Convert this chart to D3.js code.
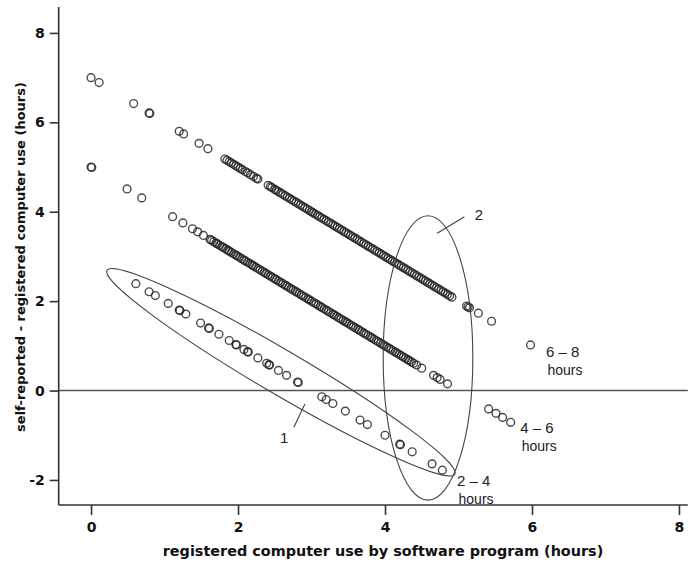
<!DOCTYPE html>
<html>
<head>
<meta charset="utf-8">
<script src="https://cdn.jsdelivr.net/npm/d3@7"></script>
<style>
  html, body { margin: 0; padding: 0; background: #fff; }
  svg { display: block; }
</style>
</head>
<body>
<svg id="chart" width="688" height="564"></svg>
<script>
// ---------------- DATA ----------------
// Registered computer use (hours) for participants in each self-reported category.
// Self-reported category midpoints (hours): 2–4 -> 3, 4–6 -> 5, 6–8 -> 7
const selfReported = [3, 5, 7];
const categoryLabels = ["2 – 4", "4 – 6", "6 – 8"];

const registered_2to4 = [0.61, 0.79, 0.875, 1.05, 1.2, 1.21, 1.29, 1.49, 1.6, 1.61, 1.74, 1.88, 1.97, 1.98,
  2.08, 2.13, 2.14, 2.27, 2.39, 2.42, 2.43, 2.55, 2.66, 2.81, 2.82,
  3.14, 3.2, 3.29, 3.46, 3.66, 3.76, 4.0, 4.2, 4.21, 4.37, 4.64, 4.78];

const registered_4to6 = [0.0, 0.01, 0.49, 0.69, 1.11, 1.25, 1.38, 1.45, 1.53,
  1.62, 1.64, 1.67, 1.7, 1.72, 1.75, 1.78, 1.8, 1.83, 1.86, 1.88, 1.91, 1.94, 1.97, 1.99, 2.02,
  2.05, 2.08, 2.1, 2.13, 2.16, 2.19, 2.21, 2.24, 2.27, 2.3, 2.33, 2.36, 2.38, 2.41, 2.44, 2.47,
  2.5, 2.52, 2.55, 2.58, 2.61, 2.64, 2.66, 2.69, 2.72, 2.75, 2.78, 2.8, 2.83, 2.86, 2.89, 2.92,
  2.95, 2.97, 3.0, 3.03, 3.06, 3.09, 3.12, 3.14, 3.17, 3.2, 3.23, 3.26, 3.29, 3.31, 3.34, 3.37,
  3.4, 3.43, 3.46, 3.48, 3.51, 3.54, 3.57, 3.6, 3.63, 3.65, 3.68, 3.71, 3.74, 3.77, 3.8, 3.82,
  3.85, 3.88, 3.91, 3.94, 3.97, 3.99, 4.02, 4.05, 4.08, 4.11, 4.14, 4.16, 4.19, 4.22, 4.25,
  4.28, 4.31, 4.33, 4.36, 4.39, 4.43, 4.5, 4.66, 4.71, 4.75, 4.85,
  5.41, 5.51, 5.6, 5.71];

const registered_6to8 = [0.0, 0.11, 0.58, 0.79, 0.8, 1.2, 1.26, 1.47, 1.59,
  1.82, 1.85, 1.88, 1.91, 1.94, 1.97, 2.0, 2.03, 2.06, 2.1, 2.13, 2.17, 2.21, 2.25, 2.27,
  2.41, 2.44, 2.46, 2.5, 2.52, 2.55, 2.58, 2.61, 2.64, 2.67, 2.7, 2.73, 2.76, 2.79, 2.82, 2.85,
  2.88, 2.91, 2.94, 2.97, 3.0, 3.02, 3.05, 3.08, 3.11, 3.14, 3.17, 3.2, 3.23, 3.26, 3.29, 3.32,
  3.35, 3.38, 3.41, 3.44, 3.47, 3.5, 3.53, 3.56, 3.59, 3.62, 3.65, 3.68, 3.71, 3.74, 3.77, 3.8,
  3.83, 3.86, 3.89, 3.92, 3.95, 3.98, 4.01, 4.04, 4.07, 4.1, 4.13, 4.16, 4.19, 4.22, 4.25, 4.28,
  4.31, 4.34, 4.37, 4.4, 4.43, 4.46, 4.49, 4.52, 4.55, 4.58, 4.61, 4.64, 4.67, 4.7, 4.73, 4.76,
  4.79, 4.82, 4.85, 4.88, 4.91, 5.11, 5.13, 5.15, 5.27, 5.45, 5.98];

const groups = [registered_2to4, registered_4to6, registered_6to8];

const xTicks = [0, 2, 4, 6, 8];
const yTicks = [-2, 0, 2, 4, 6, 8];
const xTitle = "registered computer use by software program (hours)";
const yTitle = "self-reported - registered computer use (hours)";

// ---------------- LAYOUT ----------------
const svg = d3.select("#chart");
const x = d3.scaleLinear().domain([-0.44, 8.12]).range([58.7, 687.8]);
const y = d3.scaleLinear().domain([-2.56, 8.58]).range([505, 7]);

const axisColor = "#333";
const tickFont = "bold 14px 'DejaVu Sans', Verdana, sans-serif";

// zero reference line
svg.append("line")
  .attr("x1", x(-0.44)).attr("x2", x(8.12))
  .attr("y1", y(0)).attr("y2", y(0))
  .attr("stroke", "#555").attr("stroke-width", 1.6);

// points
const pts = [];
groups.forEach((arr, gi) => arr.forEach(r => pts.push({ r, d: selfReported[gi] - r })));
svg.append("g").selectAll("circle").data(pts).join("circle")
  .attr("cx", d => x(d.r)).attr("cy", d => y(d.d)).attr("r", 3.9)
  .attr("fill", "none").attr("stroke", "#1e1e1e")
  .attr("stroke-opacity", 0.8).attr("stroke-width", 1.4);

// axes
const fmt = d => String(d);
const xAxis = d3.axisBottom(x).tickValues(xTicks).tickSize(10).tickPadding(7).tickFormat(fmt);
const yAxis = d3.axisLeft(y).tickValues(yTicks).tickSize(9).tickPadding(5).tickFormat(fmt);

const gx = svg.append("g").attr("transform", `translate(0,${y(-2.56)})`).call(xAxis);
const gy = svg.append("g").attr("transform", `translate(${x(-0.44)},0)`).call(yAxis);
[gx, gy].forEach(g => {
  g.select(".domain").attr("stroke", axisColor).attr("stroke-width", 1.6);
  g.selectAll(".tick line").attr("stroke", axisColor).attr("stroke-width", 1.6);
  g.selectAll(".tick text").attr("fill", "#111").style("font", tickFont);
});
gx.select(".domain").attr("d", `M${x(-0.44)},0H${x(8.12)}`);
gy.select(".domain").attr("d", `M0,${y(8.58)}V${y(-2.56)}`);

// axis titles
svg.append("text").attr("x", 383).attr("y", 556).attr("text-anchor", "middle")
  .style("font", "bold 14.4px 'DejaVu Sans', Verdana, sans-serif").attr("fill", "#111").text(xTitle);
svg.append("text").attr("transform", "translate(25,257) rotate(-90)").attr("text-anchor", "middle")
  .style("font", "bold 13px 'DejaVu Sans', Verdana, sans-serif").attr("fill", "#111").text(yTitle);

// ---------------- ANNOTATIONS ----------------
const annColor = "#444";
// Ellipse 1 (2–4 h group), defined by its tips in data units plus half-width in px
const tipA = [0.218, 2.69], tipB = [4.95, -1.87];
const ax1 = x(tipA[0]), ay1 = y(tipA[1]), bx1 = x(tipB[0]), by1 = y(tipB[1]);
const cx1 = (ax1 + bx1) / 2, cy1 = (ay1 + by1) / 2;
const rx1 = Math.hypot(bx1 - ax1, by1 - ay1) / 2;
const ang1 = Math.atan2(by1 - ay1, bx1 - ax1) * 180 / Math.PI;
svg.append("ellipse").attr("cx", cx1).attr("cy", cy1).attr("rx", rx1).attr("ry", 22)
  .attr("transform", `rotate(${ang1},${cx1},${cy1})`)
  .attr("fill", "none").attr("stroke", annColor).attr("stroke-width", 1.1);

// Ellipse 2 (upper edge of registered range)
const e2 = { cx: 4.585, cy: 0.73, rx: 0.61, ry: 3.18 };
svg.append("ellipse").attr("cx", x(e2.cx)).attr("cy", y(e2.cy))
  .attr("rx", x(e2.cx + e2.rx) - x(e2.cx)).attr("ry", y(e2.cy - e2.ry) - y(e2.cy))
  .attr("fill", "none").attr("stroke", annColor).attr("stroke-width", 1.1);

// leader lines and numbers
const leaders = [
  { from: [2.76, -0.82], to: [2.91, -0.3], label: "1", at: [2.57, -1.17] },
  { from: [4.71, 3.52], to: [5.08, 3.89], label: "2", at: [5.22, 3.82] }
];
leaders.forEach(l => {
  svg.append("line").attr("x1", x(l.from[0])).attr("y1", y(l.from[1]))
    .attr("x2", x(l.to[0])).attr("y2", y(l.to[1]))
    .attr("stroke", annColor).attr("stroke-width", 1.1);
  svg.append("text").attr("x", x(l.at[0])).attr("y", y(l.at[1]))
    .style("font", "15px 'Liberation Sans', Arial, sans-serif").attr("fill", "#222").text(l.label);
});

// category labels
const catPos = [[4.98, -2.13], [5.84, -0.95], [6.19, 0.75]];
catPos.forEach((p, i) => {
  const t = svg.append("text").attr("x", x(p[0])).attr("y", y(p[1]))
    .style("font", "15px 'Liberation Sans', Arial, sans-serif").attr("fill", "#222");
  t.append("tspan").text(categoryLabels[i]);
  t.append("tspan").attr("x", x(p[0]) + 1.5).attr("dy", 18).style("font-size", "14px").text("hours");
});
</script>
</body>
</html>
